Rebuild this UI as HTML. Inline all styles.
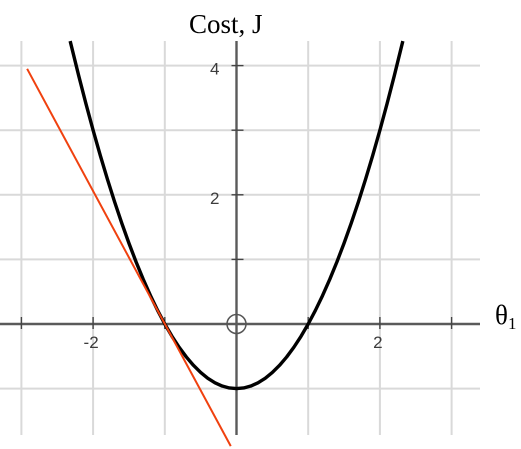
<!DOCTYPE html>
<html>
<head>
<meta charset="utf-8">
<title>Cost function</title>
<style>
html,body{margin:0;padding:0;background:#fff;width:521px;height:449px;overflow:hidden}
svg{display:block}
</style>
</head>
<body>
<svg id="chart" xmlns="http://www.w3.org/2000/svg" width="521" height="449" viewBox="0 0 521 449"></svg>
<script>
const xGridValues = [-3, -2, -1, 1, 2, 3];
const yGridValues = [4, 3, 2, 1, -1];
const xTickValues = [-3, -2, -1, 1, 2, 3];
const yTickValues = [4, 3, 2, 1, -1];
const xTickLabels = ["-2", "2"];
const yTickLabels = ["4", "2"];
const curveTheta = [-2.32,-2.2,-2.1,-2,-1.9,-1.8,-1.7,-1.6,-1.5,-1.4,-1.3,-1.2,-1.1,-1,-0.9,-0.8,-0.7,-0.6,-0.5,-0.4,-0.3,-0.2,-0.1,0,0.1,0.2,0.3,0.4,0.5,0.6,0.7,0.8,0.9,1,1.1,1.2,1.3,1.4,1.5,1.6,1.7,1.8,1.9,2,2.1,2.2,2.32];
const curveCost = [4.38,3.84,3.41,3,2.61,2.24,1.89,1.56,1.25,0.96,0.69,0.44,0.21,0,-0.19,-0.36,-0.51,-0.64,-0.75,-0.84,-0.91,-0.96,-0.99,-1,-0.99,-0.96,-0.91,-0.84,-0.75,-0.64,-0.51,-0.36,-0.19,0,0.21,0.44,0.69,0.96,1.25,1.56,1.89,2.24,2.61,3,3.41,3.84,4.38];
const tangentTheta = [-2.92, -0.08];
const tangentCost = [3.95, -1.89];

const svg = document.getElementById('chart');
const NS = 'http://www.w3.org/2000/svg';
const sx = v => 236.5 + v * 71.7;
const sy = v => 324 - v * 64.6;
const LEFT = 0, RIGHT = 480, TOP = 41, BOTTOM = 435;

function make(tag, attrs, parent) {
  const el = document.createElementNS(NS, tag);
  for (const k in attrs) el.setAttribute(k, attrs[k]);
  (parent || svg).appendChild(el);
  return el;
}

const gridGroup = make('g', {stroke: '#d9d9d9', 'stroke-width': 2});


xGridValues.forEach(v => {
  const l = make('line', {x1: sx(v), x2: sx(v), y1: TOP, y2: BOTTOM}, gridGroup);
  
  
});
yGridValues.forEach(v => {
  const l = make('line', {x1: LEFT, x2: RIGHT, y1: sy(v), y2: sy(v)}, gridGroup);
  
  
});

const xAxis = make('line', {x1: LEFT, x2: RIGHT, y1: sy(0), y2: sy(0), stroke: '#5a5a5a', 'stroke-width': 2.4});


const yAxis = make('line', {x1: sx(0), x2: sx(0), y1: TOP, y2: BOTTOM, stroke: '#5a5a5a', 'stroke-width': 2.4});



xTickValues.forEach(v => {
  const t = make('line', {x1: sx(v), x2: sx(v), y1: sy(0) - 7, y2: sy(0) + 5, stroke: '#444', 'stroke-width': 1.4});
  
  
});
yTickValues.forEach(v => {
  const t = make('line', {x1: sx(0) - 5, x2: sx(0) + 7, y1: sy(v), y2: sy(v), stroke: '#444', 'stroke-width': 1.4});
  
  
});

const labelFont = {'font-family': '"Liberation Sans", sans-serif', 'font-size': 17, fill: '#3c3c3c'};
xTickLabels.forEach(s => {
  const t = make('text', Object.assign({x: sx(Number(s)) - 2, y: sy(0) + 24, 'text-anchor': 'middle'}, labelFont));
  t.textContent = s;
  
  
});
yTickLabels.forEach(s => {
  const t = make('text', Object.assign({x: sx(0) - 17, y: sy(Number(s)) + 9, 'text-anchor': 'end'}, labelFont));
  t.textContent = s;
  
  
});

const origin = make('circle', {cx: sx(0), cy: sy(0), r: 9.5, fill: 'none', stroke: '#555', 'stroke-width': 1.5});



const curve = make('polyline', {
  points: curveTheta.map((t, i) => sx(t) + ',' + sy(curveCost[i])).join(' '),
  fill: 'none', stroke: '#000', 'stroke-width': 3.4, 'stroke-linejoin': 'round'
});



const tangent = make('polyline', {
  points: tangentTheta.map((t, i) => sx(t) + ',' + sy(tangentCost[i])).join(' '),
  fill: 'none', stroke: '#f0410f', 'stroke-width': 2
});


</script>
<svg xmlns="http://www.w3.org/2000/svg" width="521" height="449" viewBox="0 0 521 449" style="position:absolute;left:0;top:0">
  <text x="189" y="33" font-family="'Liberation Serif', serif" font-size="27" fill="#000">Cost, J</text>
  <text x="495" y="324" font-family="'Liberation Serif', serif" font-size="27" fill="#000">θ<tspan font-size="17" dy="5">1</tspan></text>
</svg>
</body>
</html>
